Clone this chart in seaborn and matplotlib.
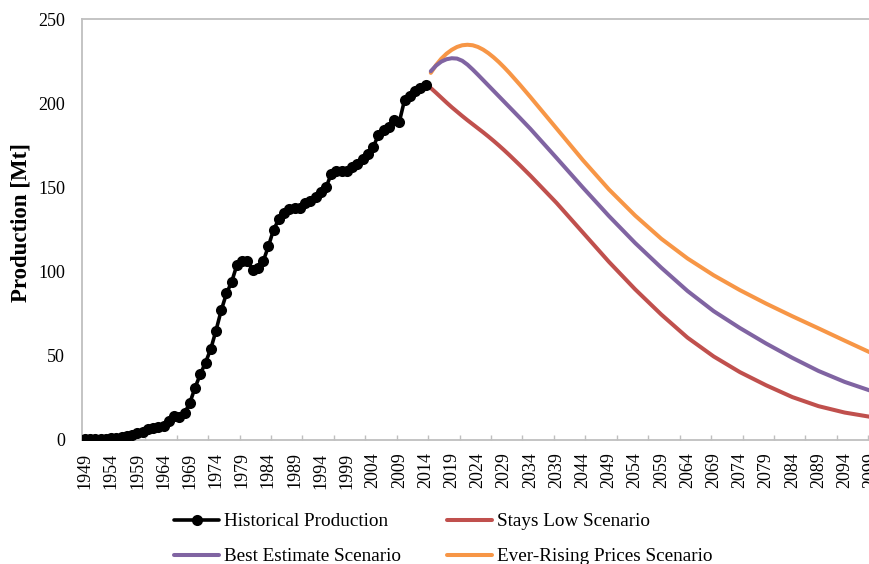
import numpy as np
import pandas as pd
import matplotlib
matplotlib.use("Agg")
import matplotlib.pyplot as plt
import seaborn as sns
from matplotlib.ticker import FixedLocator

# Historical production, 1949-2014 [Mt]
hist_years = list(range(1949, 2015))
hist_production = [
    0.3, 0.4, 0.5, 0.6, 0.8, 1.0, 1.3, 1.7, 2.2, 3.0,
    4.0, 5.0, 6.5, 7.0, 7.5, 8.5, 11.0, 14.5, 13.5, 16.0,
    22.0, 31.0, 39.0, 46.0, 54.0, 65.0, 77.0, 87.0, 94.0, 104.0,
    106.0, 106.0, 101.0, 102.0, 106.0, 115.0, 125.0, 131.0, 135.0, 137.0,
    138.0, 138.0, 141.0, 142.0, 144.5, 147.5, 150.0, 158.0, 160.0, 160.0,
    160.0, 162.0, 164.0, 167.0, 170.0, 174.0, 181.0, 184.0, 186.0, 190.0,
    189.0, 202.0, 204.0, 207.0, 209.0, 211.0,
]

# Projection scenarios [Mt]
scenario_years = [2015, 2016, 2017, 2018, 2019, 2020, 2021, 2022, 2023, 2024,
                  2025, 2026, 2027, 2028, 2029, 2030, 2032, 2034, 2039, 2044,
                  2049, 2054, 2059, 2064, 2069, 2074, 2079, 2084, 2089, 2094, 2099]
stays_low = [209.0, 206.2, 203.3, 200.4, 197.6, 195.0, 192.4, 189.9, 187.5, 185.1,
             182.7, 180.2, 177.6, 174.9, 172.1, 169.2, 163.2, 157.0, 140.8, 123.3,
             105.8, 89.5, 74.5, 60.8, 49.6, 40.3, 32.5, 25.5, 20.1, 16.3, 13.7]
best_estimate = [219.0, 222.3, 224.7, 226.1, 226.7, 226.5, 225.2, 222.9, 220.0, 216.9,
                 213.7, 210.5, 207.3, 204.1, 200.9, 197.7, 191.3, 184.8, 167.5, 150.0,
                 133.0, 117.0, 102.3, 88.5, 76.5, 66.5, 57.3, 48.8, 41.0, 34.5, 29.2]
ever_rising = [218.0, 222.6, 226.4, 229.4, 231.7, 233.4, 234.4, 234.7, 234.4, 233.4,
               231.8, 229.7, 227.2, 224.4, 221.3, 218.0, 211.0, 203.7, 185.0, 166.3,
               148.8, 133.3, 119.5, 107.8, 97.8, 89.0, 81.0, 73.5, 66.3, 59.0, 51.8]

label_years = list(range(1949, 2100, 5))
y_ticks = [0, 50, 100, 150, 200, 250]

sns.set_theme(style="white")
plt.rcParams["font.family"] = ["Liberation Serif", "DejaVu Serif"]
plt.rcParams["text.color"] = "black"
plt.rcParams["axes.labelcolor"] = "black"

W, H = 869, 564
fig = plt.figure(figsize=(W / 100, H / 100), dpi=100)

x0, x1 = 1948.5, 2100.5
px_per_year = 5.239
left_px, bottom_px, height_px = 82.4, 124.0, 421.0
width_px = (x1 - x0) * px_per_year
ax = fig.add_axes([left_px / W, bottom_px / H, width_px / W, height_px / H])

hist_df = pd.DataFrame({"Year": hist_years, "Production": hist_production})
scen_df = pd.DataFrame({"Year": scenario_years, "Stays Low": stays_low,
                        "Best Estimate": best_estimate, "Ever-Rising": ever_rising})

sns.lineplot(data=hist_df, x="Year", y="Production", ax=ax, color="black",
             lw=2.6, marker="o", markersize=8.0, markeredgewidth=0,
             label="Historical Production", zorder=5)
sns.lineplot(data=scen_df, x="Year", y="Stays Low", ax=ax, color="#C0504D",
             lw=2.9, label="Stays Low Scenario", zorder=3)
sns.lineplot(data=scen_df, x="Year", y="Best Estimate", ax=ax, color="#8064A2",
             lw=2.9, label="Best Estimate Scenario", zorder=3)
sns.lineplot(data=scen_df, x="Year", y="Ever-Rising", ax=ax, color="#F79646",
             lw=2.9, label="Ever-Rising Prices Scenario", zorder=2)

ax.set_xlim(x0, x1)
ax.set_ylim(0, 250)
ax.set_xticks(label_years)
ax.set_xticklabels([str(y) for y in label_years], rotation=90)
ax.xaxis.set_minor_locator(FixedLocator(np.arange(1948.5, 2101, 6)))
ax.set_yticks(y_ticks)
ax.set_yticklabels([str(v) for v in y_ticks])

ax.tick_params(axis="x", which="major", bottom=False, length=0, pad=9,
               labelsize=13, labelcolor="black")
ax.tick_params(axis="x", which="minor", bottom=True, direction="in",
               length=3.8, width=1.0, color="#BFBFBF")
ax.tick_params(axis="y", left=False, length=0, pad=12.5, labelsize=13,
               labelcolor="black")

for side in ["left", "bottom", "top", "right"]:
    ax.spines[side].set_visible(True)
    ax.spines[side].set_color("#BFBFBF")
    ax.spines[side].set_linewidth(1.3)

ax.set_xlabel("")
ax.set_ylabel("Production [Mt]", fontsize=16.5, fontweight="bold", va="center")
ax.yaxis.set_label_coords((21.5 - left_px) / width_px, (H - 222 - bottom_px) / height_px)

handles, labels = ax.get_legend_handles_labels()
if ax.get_legend() is not None:
    ax.get_legend().remove()
order = [0, 2, 1, 3]
fig.legend([handles[i] for i in order], [labels[i] for i in order],
           loc="upper left", bbox_to_anchor=(174 / W, 1 - 513 / H), ncol=2,
           frameon=False, fontsize=13.8, handlelength=2.35, handletextpad=0.27,
           columnspacing=2.4, labelspacing=0.92, borderpad=0, borderaxespad=0,
           labelcolor="black")

fig.savefig("out.png", dpi=100)
